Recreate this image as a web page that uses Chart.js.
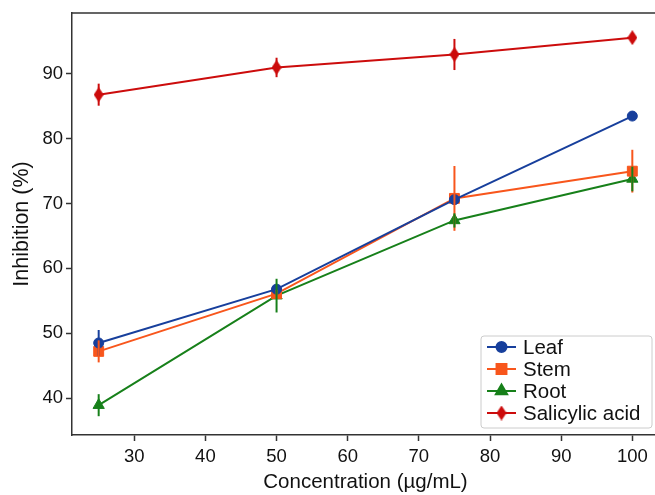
<!DOCTYPE html>
<html>
<head>
<meta charset="utf-8">
<script src="https://cdn.jsdelivr.net/npm/chart.js@4/dist/chart.umd.min.js"></script>
<style>
  html, body { margin: 0; padding: 0; background: #fff; overflow: hidden; }
  #wrap { width: 667px; height: 495px; }
  #chart { width: 667px; height: 495px; display: block; }
</style>
</head>
<body>
<div id="wrap"><canvas id="chart" width="667" height="495"></canvas></div>
<script>
// données
var concentrations = [25, 50, 75, 100];
var seriesNames = ['Leaf', 'Stem', 'Root', 'Salicylic acid'];
var leaf = [48.5, 56.8, 70.6, 83.5];
var leafErr = [2.0, 0.5, 0.5, 0.3];
var stem = [47.2, 56.1, 70.8, 75.0];
var stemErr = [1.7, 0.6, 5.0, 3.3];
var root = [38.9, 55.8, 67.4, 73.8];
var rootErr = [1.7, 2.6, 1.1, 1.9];
var salicylic = [86.8, 91.0, 93.0, 95.6];
var salicylicErr = [1.7, 1.5, 2.4, 0.7];
var xTicks = [30, 40, 50, 60, 70, 80, 90, 100];
var yTicks = [40, 50, 60, 70, 80, 90];

var FONT = '"Liberation Sans", Arial, sans-serif';
var AXIS = '#333333';

// losange fin (marqueur 'd' de matplotlib)
function thinDiamond(color, w, h) {
    var c = document.createElement('canvas');
    c.width = w; c.height = h;
    var g = c.getContext('2d');
    g.fillStyle = color;
    g.beginPath();
    g.moveTo(w / 2, 0);
    g.lineTo(w, h / 2);
    g.lineTo(w / 2, h);
    g.lineTo(0, h / 2);
    g.closePath();
    g.fill();
    return c;
}

function makePoints(values) {
    return concentrations.map(function(x, i) { return { x: x, y: values[i] }; });
}

var colors = ['#173f9c', '#f8561c', '#17801a', '#cc0c0c'];
var values = [leaf, stem, root, salicylic];
var errors = [leafErr, stemErr, rootErr, salicylicErr];
var styles = ['circle', 'rect', 'triangle', thinDiamond(colors[3], 10, 15)];
var radii = [5, 7, 6.5, 7];

var datasets = seriesNames.map(function(name, k) {
    return {
        label: name,
        data: makePoints(values[k]),
        errors: errors[k],
        borderColor: colors[k],
        backgroundColor: colors[k],
        borderWidth: 2,
        pointStyle: styles[k],
        pointRadius: radii[k],
        pointHoverRadius: radii[k],
        pointBorderWidth: 1,
        pointBackgroundColor: colors[k],
        pointBorderColor: colors[k],
        tension: 0,
        fill: false
    };
});

// barres d'erreur verticales, sans chapeau
var errorBars = {
    id: 'errorBars',
    afterDatasetsDraw: function(chart) {
        var ctx = chart.ctx;
        var xs = chart.scales.x, ys = chart.scales.y;
        ctx.save();
        chart.data.datasets.forEach(function(ds) {
            ctx.strokeStyle = ds.borderColor;
            ctx.lineWidth = 2;
            ds.data.forEach(function(p, i) {
                var e = ds.errors[i];
                var px = xs.getPixelForValue(p.x);
                ctx.beginPath();
                ctx.moveTo(px, ys.getPixelForValue(p.y - e));
                ctx.lineTo(px, ys.getPixelForValue(p.y + e));
                ctx.stroke();
            });
        });
        ctx.restore();
    }
};

// cadre du haut et de droite
var topSpine = {
    id: 'topSpine',
    afterDraw: function(chart) {
        var a = chart.chartArea, ctx = chart.ctx;
        ctx.save();
        ctx.strokeStyle = AXIS;
        ctx.lineWidth = 1.5;
        ctx.beginPath();
        ctx.moveTo(a.left, a.top);
        ctx.lineTo(a.right, a.top);
        ctx.lineTo(a.right, a.bottom);
        ctx.stroke();
        ctx.restore();
    }
};

// légende dans le coin en bas à droite
var innerLegend = {
    id: 'innerLegend',
    afterDraw: function(chart) {
        var ctx = chart.ctx;
        var bx = 481, by = 336, bw = 171, bh = 92;
        ctx.save();
        ctx.fillStyle = 'rgba(255,255,255,0.9)';
        ctx.strokeStyle = '#cccccc';
        ctx.lineWidth = 1;
        ctx.beginPath();
        if (ctx.roundRect) ctx.roundRect(bx, by, bw, bh, 3); else ctx.rect(bx, by, bw, bh);
        ctx.fill();
        ctx.stroke();
        ctx.font = '20.5px ' + FONT;
        ctx.textBaseline = 'middle';
        chart.data.datasets.forEach(function(ds, i) {
            var y = by + 11 + i * 22;
            ctx.strokeStyle = ds.borderColor;
            ctx.lineWidth = 2;
            ctx.beginPath();
            ctx.moveTo(bx + 6, y);
            ctx.lineTo(bx + 35, y);
            ctx.stroke();
            ctx.fillStyle = ds.borderColor;
            Chart.helpers.drawPoint(ctx, {
                pointStyle: ds.pointStyle,
                radius: ds.pointRadius,
                rotation: 0,
                borderWidth: 1
            }, bx + 20.5, y);
            ctx.fillStyle = '#111111';
            ctx.fillText(ds.label, bx + 42, y + 1);
        });
        ctx.restore();
    }
};

new Chart(document.getElementById('chart').getContext('2d'), {
    type: 'line',
    data: { datasets: datasets },
    plugins: [errorBars, topSpine, innerLegend],
    options: {
        responsive: false,
        animation: false,
        events: [],
        layout: { padding: { left: 0, right: 4, top: 13, bottom: 0 } },
        plugins: {
            legend: { display: false },
            tooltip: { enabled: false }
        },
        scales: {
            x: {
                type: 'linear',
                min: 21.25,
                max: 103.75,
                afterBuildTicks: function(s) { s.ticks = xTicks.map(function(v) { return { value: v }; }); },
                afterFit: function(s) { s.height = 60; s.paddingLeft = 0; s.paddingRight = 0; },
                grid: { display: true, drawOnChartArea: false, drawTicks: true, tickLength: 6, tickColor: AXIS, tickWidth: 1.5 },
                border: { display: true, color: AXIS, width: 1.5 },
                ticks: { color: '#111111', font: { family: FONT, size: 18.5 }, padding: 5, maxRotation: 0 },
                title: { display: true, text: 'Concentration (µg/mL)', color: '#111111', font: { family: FONT, size: 20.5 }, padding: { top: 0, bottom: 0 } }
            },
            y: {
                type: 'linear',
                min: 34.3,
                max: 99.4,
                afterBuildTicks: function(s) { s.ticks = yTicks.map(function(v) { return { value: v }; }); },
                afterFit: function(s) { s.width = 72; s.paddingTop = 0; s.paddingBottom = 0; },
                grid: { display: true, drawOnChartArea: false, drawTicks: true, tickLength: 6, tickColor: AXIS, tickWidth: 1.5 },
                border: { display: true, color: AXIS, width: 1.5 },
                ticks: { color: '#111111', font: { family: FONT, size: 18.5 }, padding: 3 },
                title: { display: true, text: 'Inhibition (%)', color: '#111111', font: { family: FONT, size: 21.5 }, padding: { top: 9, bottom: 0 } }
            }
        }
    }
});
</script>
</body>
</html>
